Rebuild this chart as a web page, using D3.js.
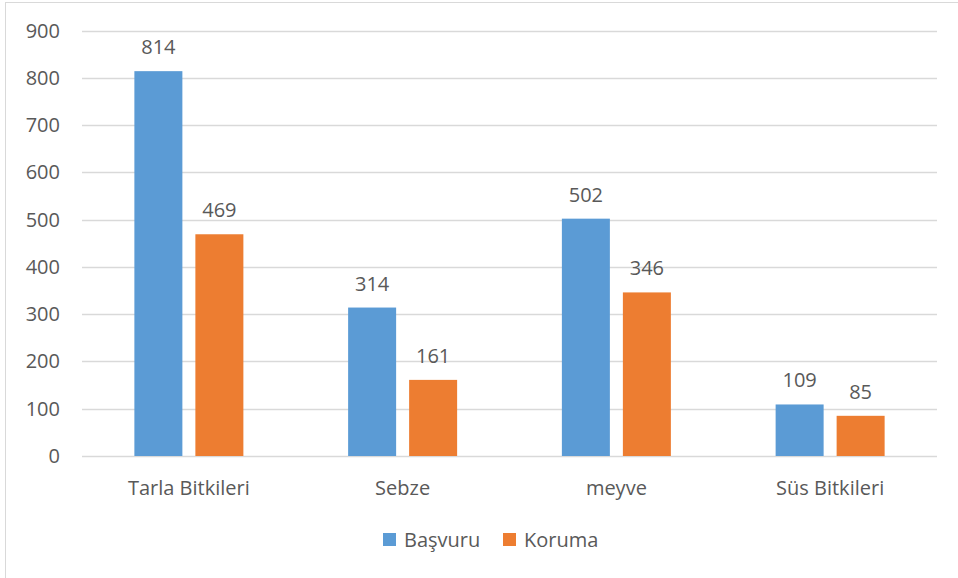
<script src="https://cdnjs.cloudflare.com/ajax/libs/d3/7.8.5/d3.min.js"></script>
<style>
  body { margin: 0; background: #fff; }
  svg text { font-family: 'Open Sans', 'Liberation Sans', Arial, sans-serif; fill: #595959; }
</style>
<body>
<div id="chart"></div>
<script>
// data
const categories = ["Tarla Bitkileri", "Sebze", "meyve", "Süs Bitkileri"];
const seriesNames = ["Başvuru", "Koruma"];
const basvuru = [814, 314, 502, 109];
const koruma = [469, 161, 346, 85];
const yTicks = [0, 100, 200, 300, 400, 500, 600, 700, 800, 900];
const colors = ["#5B9BD5", "#ED7D31"];

const W = 958, H = 578;
const svg = d3.select("#chart").append("svg")
  .attr("width", W)
  .attr("height", H);

// chart frame
svg.append("rect")
  .attr("x", 5.5).attr("y", 2.5)
  .attr("width", 970).attr("height", 600)
  .attr("fill", "none")
  .attr("stroke", "#d9d9d9")
  .attr("stroke-width", 1);

const plotL = 82, plotR = 937, plotT = 30.5, plotB = 456;

const x0 = d3.scaleBand()
  .domain(categories)
  .range([plotL, plotR])
  .padding(0);

const x1 = d3.scaleBand()
  .domain(seriesNames)
  .range([-54.5, 54.5])
  .paddingInner(13 / 61);

const y = d3.scaleLinear()
  .domain([0, 900])
  .range([plotB, plotT]);

// gridlines
svg.append("g")
  .selectAll("line")
  .data(yTicks)
  .join("line")
  .attr("x1", plotL).attr("x2", plotR)
  .attr("y1", d => Math.round(y(d)) + 0.5)
  .attr("y2", d => Math.round(y(d)) + 0.5)
  .attr("stroke", "#d9d9d9")
  .attr("stroke-width", 1.5);

// y tick labels
svg.append("g")
  .selectAll("text")
  .data(yTicks)
  .join("text")
  .attr("x", 60)
  .attr("y", d => y(d) + 7)
  .attr("text-anchor", "end")
  .attr("font-size", 20)
  .text(d => d);

const rows = categories.map((c, i) => ({ cat: c, vals: [basvuru[i], koruma[i]] }));

const groups = svg.append("g")
  .selectAll("g")
  .data(rows)
  .join("g")
  .attr("transform", d => `translate(${x0(d.cat) + x0.bandwidth() / 2},0)`);

const bars = groups.selectAll("g")
  .data(d => d.vals.map((v, j) => ({ name: seriesNames[j], v: v, j: j })))
  .join("g");

bars.append("rect")
  .attr("x", d => x1(d.name))
  .attr("width", x1.bandwidth())
  .attr("y", d => y(d.v))
  .attr("height", d => y(0) - y(d.v))
  .attr("fill", d => colors[d.j]);

bars.append("text")
  .attr("x", d => x1(d.name) + x1.bandwidth() / 2)
  .attr("y", d => y(d.v) - 17)
  .attr("text-anchor", "middle")
  .attr("font-size", 20)
  .text(d => d.v);

// category labels
svg.append("g")
  .selectAll("text")
  .data(categories)
  .join("text")
  .attr("x", d => x0(d) + x0.bandwidth() / 2)
  .attr("y", 495)
  .attr("text-anchor", "middle")
  .attr("font-size", 20)
  .text(d => d);

// legend
const legendX = [383, 503];
const legend = svg.append("g")
  .selectAll("g")
  .data(seriesNames)
  .join("g")
  .attr("transform", (d, i) => `translate(${legendX[i]},533)`);

legend.append("rect")
  .attr("width", 13).attr("height", 13)
  .attr("fill", (d, i) => colors[i]);

legend.append("text")
  .attr("x", 21)
  .attr("y", 14)
  .attr("font-size", 20)
  .text(d => d);
</script>
</body>
